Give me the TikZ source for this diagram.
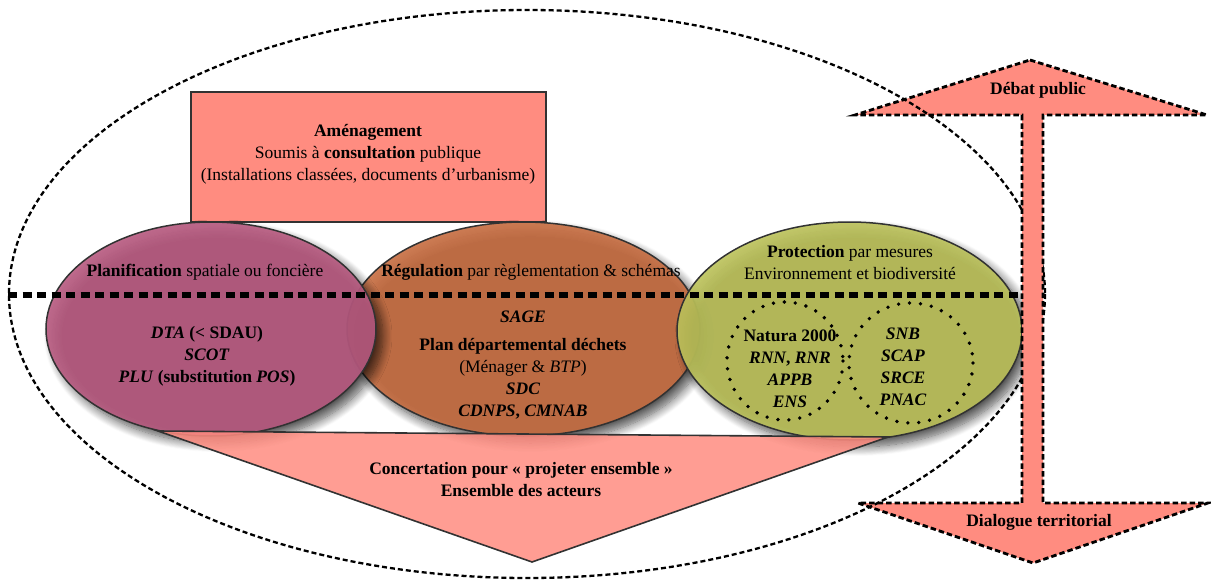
\documentclass[tikz,border=0pt]{standalone}
\usepackage{fontspec}
\setmainfont{Liberation Serif}
\usetikzlibrary{shapes.geometric,shadows.blur}
\definecolor{salmon}{RGB}{255,140,128}
\definecolor{mauve}{RGB}{184,90,128}
\definecolor{rust}{RGB}{200,110,66}
\definecolor{olive}{RGB}{188,194,90}
\definecolor{edge}{RGB}{50,50,50}
\begin{document}
\begin{tikzpicture}[x=1pt,y=-1pt,
  txt/.style={font=\fontsize{17.5}{22}\selectfont, align=center, inner sep=0pt, text=black},
  bubble/.style={ellipse, draw=edge, line width=1.5pt, fill opacity=0.9, inner sep=0pt,
    blur shadow={shadow xshift=7pt, shadow yshift=-7pt, shadow blur steps=12, shadow blur radius=9pt, shadow opacity=75}},
  bigdash/.style={line width=2.3pt, dash pattern=on 5pt off 3pt},
  arrowdash/.style={line width=2.8pt, dash pattern=on 5.5pt off 3pt},
  dotring/.style={line width=3.8pt, line cap=round, dash pattern=on 0pt off 11pt},
  sep/.style={line width=5.5pt, dash pattern=on 9pt off 5.5pt}]
\useasboundingbox (0,0) rectangle (1211,583);

% Aménagement rectangle
\node[draw=edge, line width=1.6pt, fill=salmon, minimum width=355pt, minimum height=130pt, inner sep=0pt] (amen) at (368.5,157) {};

% ellipses
\node[bubble, fill=rust, minimum width=353pt, minimum height=214pt] (regul) at (523.5,329) {};
\node[bubble, fill=mauve, minimum width=330pt, minimum height=214pt] (plan) at (211,329) {};
\node[bubble, fill=olive, minimum width=345pt, minimum height=218pt] (prot) at (849.5,331) {};

% Concertation triangle
\coordinate (tl) at (158,431);
\coordinate (tr) at (888,437);
\coordinate (tb) at (532,562);
\filldraw[draw=edge, line width=1.6pt, fill=salmon, fill opacity=0.85] (tl) -- (tr) -- (tb) -- cycle;

% double arrow (fill)
\coordinate (ua) at (1030,60);
\coordinate (ul) at (855,115);
\coordinate (ur) at (1207,115);
\coordinate (sl1) at (1022,115);
\coordinate (sr1) at (1043,115);
\coordinate (sl2) at (1022,503);
\coordinate (sr2) at (1043,503);
\coordinate (dl) at (858,503);
\coordinate (dr) at (1208,503);
\coordinate (da) at (1033,563);
\fill[salmon] (ua) -- (ur) -- (sr1) -- (sr2) -- (dr) -- (da) -- (dl) -- (sl2) -- (sl1) -- (ul) -- cycle;

% big dashed ellipse
\draw[bigdash] (527,294) ellipse [x radius=518, y radius=284];

% shaft over ellipse
\fill[salmon] (sl1) rectangle (sr2);
\draw[arrowdash] (ua) -- (ur) -- (sr1) -- (sr2) -- (dr) -- (da) -- (dl) -- (sl2) -- (sl1) -- (ul) -- cycle;

% thick separator
\draw[sep] (8,295) -- (1022,295);

% dotted rings
\draw[dotring] (785,361) ellipse [x radius=58, y radius=59];
\draw[dotring] (911,363) ellipse [x radius=62, y radius=60];

% texts
\node[txt] (amentxt) at (368,154) {\textbf{Aménagement}\\Soumis à \textbf{consultation} publique\\(Installations classées, documents d’urbanisme)};

\node[txt] (plantitle) at (205,272) {\textbf{Planification} spatiale ou foncière};
\node[txt] (planlist) at (207,356) {\textbf{\textit{DTA} (< SDAU)}\\\textbf{\textit{SCOT}}\\\textbf{\textit{PLU} (substitution \textit{POS})}};

\node[txt] (regtitle) at (531,272) {\textbf{Régulation} par règlementation \& schémas};
\node[txt] (reglist) at (523,365) {\textbf{\textit{SAGE}}\\[6pt]\textbf{Plan départemental déchets}\\(Ménager \& \textit{BTP})\\\textbf{\textit{SDC}}\\\textbf{\textit{CDNPS}, \textit{CMNAB}}};

\node[txt] (prottitle) at (850,263) {\textbf{Protection} par mesures\\Environnement et biodiversité};
\node[txt] (natura) at (790,369) {\textbf{Natura 2000}\\\textbf{\textit{RNN}, \textit{RNR}}\\\textbf{\textit{APPB}}\\\textbf{\textit{ENS}}};
\node[txt] (snb) at (903,367) {\textbf{\textit{SNB}}\\\textbf{\textit{SCAP}}\\\textbf{\textit{SRCE}}\\\textbf{\textit{PNAC}}};

\node[txt] (conc) at (521,480) {\textbf{Concertation pour « projeter ensemble »}\\\textbf{Ensemble des acteurs}};

\node[txt] (debat) at (1038,90) {\textbf{Débat public}};
\node[txt] (dialogue) at (1039,522) {\textbf{Dialogue territorial}};
\end{tikzpicture}
\end{document}
